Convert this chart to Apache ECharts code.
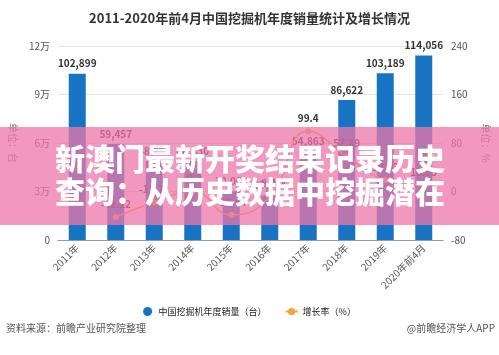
<!DOCTYPE html>
<html><head><meta charset="utf-8">
<script src="https://cdn.jsdelivr.net/npm/echarts@6/dist/echarts.min.js"></script>
<style>html,body{margin:0;padding:0;background:#fff}#c{width:499px;height:355px}</style>
</head><body><div id="c"></div>
<script>
const categories = ['2011年','2012年','2013年','2014年','2015年','2016年','2017年','2018年','2019年','2020年前4月'];
const sales = [102899, 59457, 48928, 48830, 30060, 27514, 54863, 86622, 103189, 114056];
const growth = [null, -42.22, -17.71, -0.20, -38.44, -8.47, 99.4, 57.89, 19.13, 10.53];
const leftTicks = {0:'0',30000:'3万',60000:'6万',90000:'9万',120000:'12万'};
const F = '"Noto Sans CJK SC","Microsoft YaHei",sans-serif';
const chart = echarts.init(document.getElementById('c'));
chart.setOption({
  animation:false,
  textStyle:{fontFamily:F},
  title:{text:'2011-2020年前4月中国挖掘机年度销量统计及增长情况',left:'center',top:7,
    textStyle:{fontSize:13,fontWeight:'bold',color:'#333',fontFamily:F}},
  grid:{left:56,right:53,top:46,bottom:115},
  legend:{bottom:34,left:'center',itemGap:18,itemWidth:12,itemHeight:9,textStyle:{fontSize:9,color:'#222'},
    data:[{name:'中国挖掘机年度销量（台）',icon:'circle'},{name:'增长率（%）'}]},
  xAxis:{type:'category',data:categories,
    axisLine:{lineStyle:{color:'#999'}},axisTick:{alignWithLabel:true,length:4,lineStyle:{color:'#999'}},
    axisLabel:{rotate:45,interval:0,fontSize:10,color:'#555',margin:6}},
  yAxis:[
    {type:'value',min:0,max:120000,interval:30000,name:'单位：台',nameLocation:'middle',nameGap:40,nameRotate:-90,
     nameTextStyle:{fontSize:10,color:'#777'},
     axisLabel:{formatter:v=>leftTicks[v],fontSize:10,color:'#555'},
     axisLine:{show:false},axisTick:{show:false},splitLine:{lineStyle:{color:'#e3e3e3'}}},
    {type:'value',min:-80,max:240,interval:80,name:'单位：%',nameLocation:'middle',nameGap:38,nameRotate:-90,
     nameTextStyle:{fontSize:10,color:'#777'},
     axisLabel:{fontSize:10,color:'#555'},axisLine:{show:false},axisTick:{show:false},splitLine:{show:false}}
  ],
  series:[
    {name:'中国挖掘机年度销量（台）',type:'bar',data:sales,barWidth:17,itemStyle:{color:'#1874C3'},
     label:{show:true,position:'top',fontSize:10,fontWeight:'bold',color:'#333',
       formatter:p=>p.value.toLocaleString('en-US')}},
    {name:'增长率（%）',type:'line',yAxisIndex:1,data:growth,smooth:true,symbol:'circle',symbolSize:6,
     itemStyle:{color:'#F5A33A'},lineStyle:{color:'#F5A33A',width:1.5},
     label:{show:true,position:'top',fontSize:10,fontWeight:'bold',color:'#333'}}
  ],
  graphic:[
    {type:'text',left:6,top:323,style:{text:'资料来源：前瞻产业研究院整理',fontSize:10,fill:'#555',fontFamily:F}},
    {type:'text',right:4,top:323,style:{text:'@前瞻经济学人APP',fontSize:10,fill:'#555',fontFamily:F}},
    {type:'rect',shape:{x:0,y:127,width:499,height:98},style:{fill:'rgba(238,118,168,0.75)'},z:100},
    {type:'text',x:55,y:144,z:101,style:{text:'新澳门最新开奖结果记录历史',fontSize:30,fontWeight:900,fill:'#fff',fontFamily:F}},
    {type:'text',x:55,y:177,z:101,style:{text:'查询：从历史数据中挖掘潜在',fontSize:30,fontWeight:900,fill:'#fff',fontFamily:F}}
  ]
});
</script></body></html>
